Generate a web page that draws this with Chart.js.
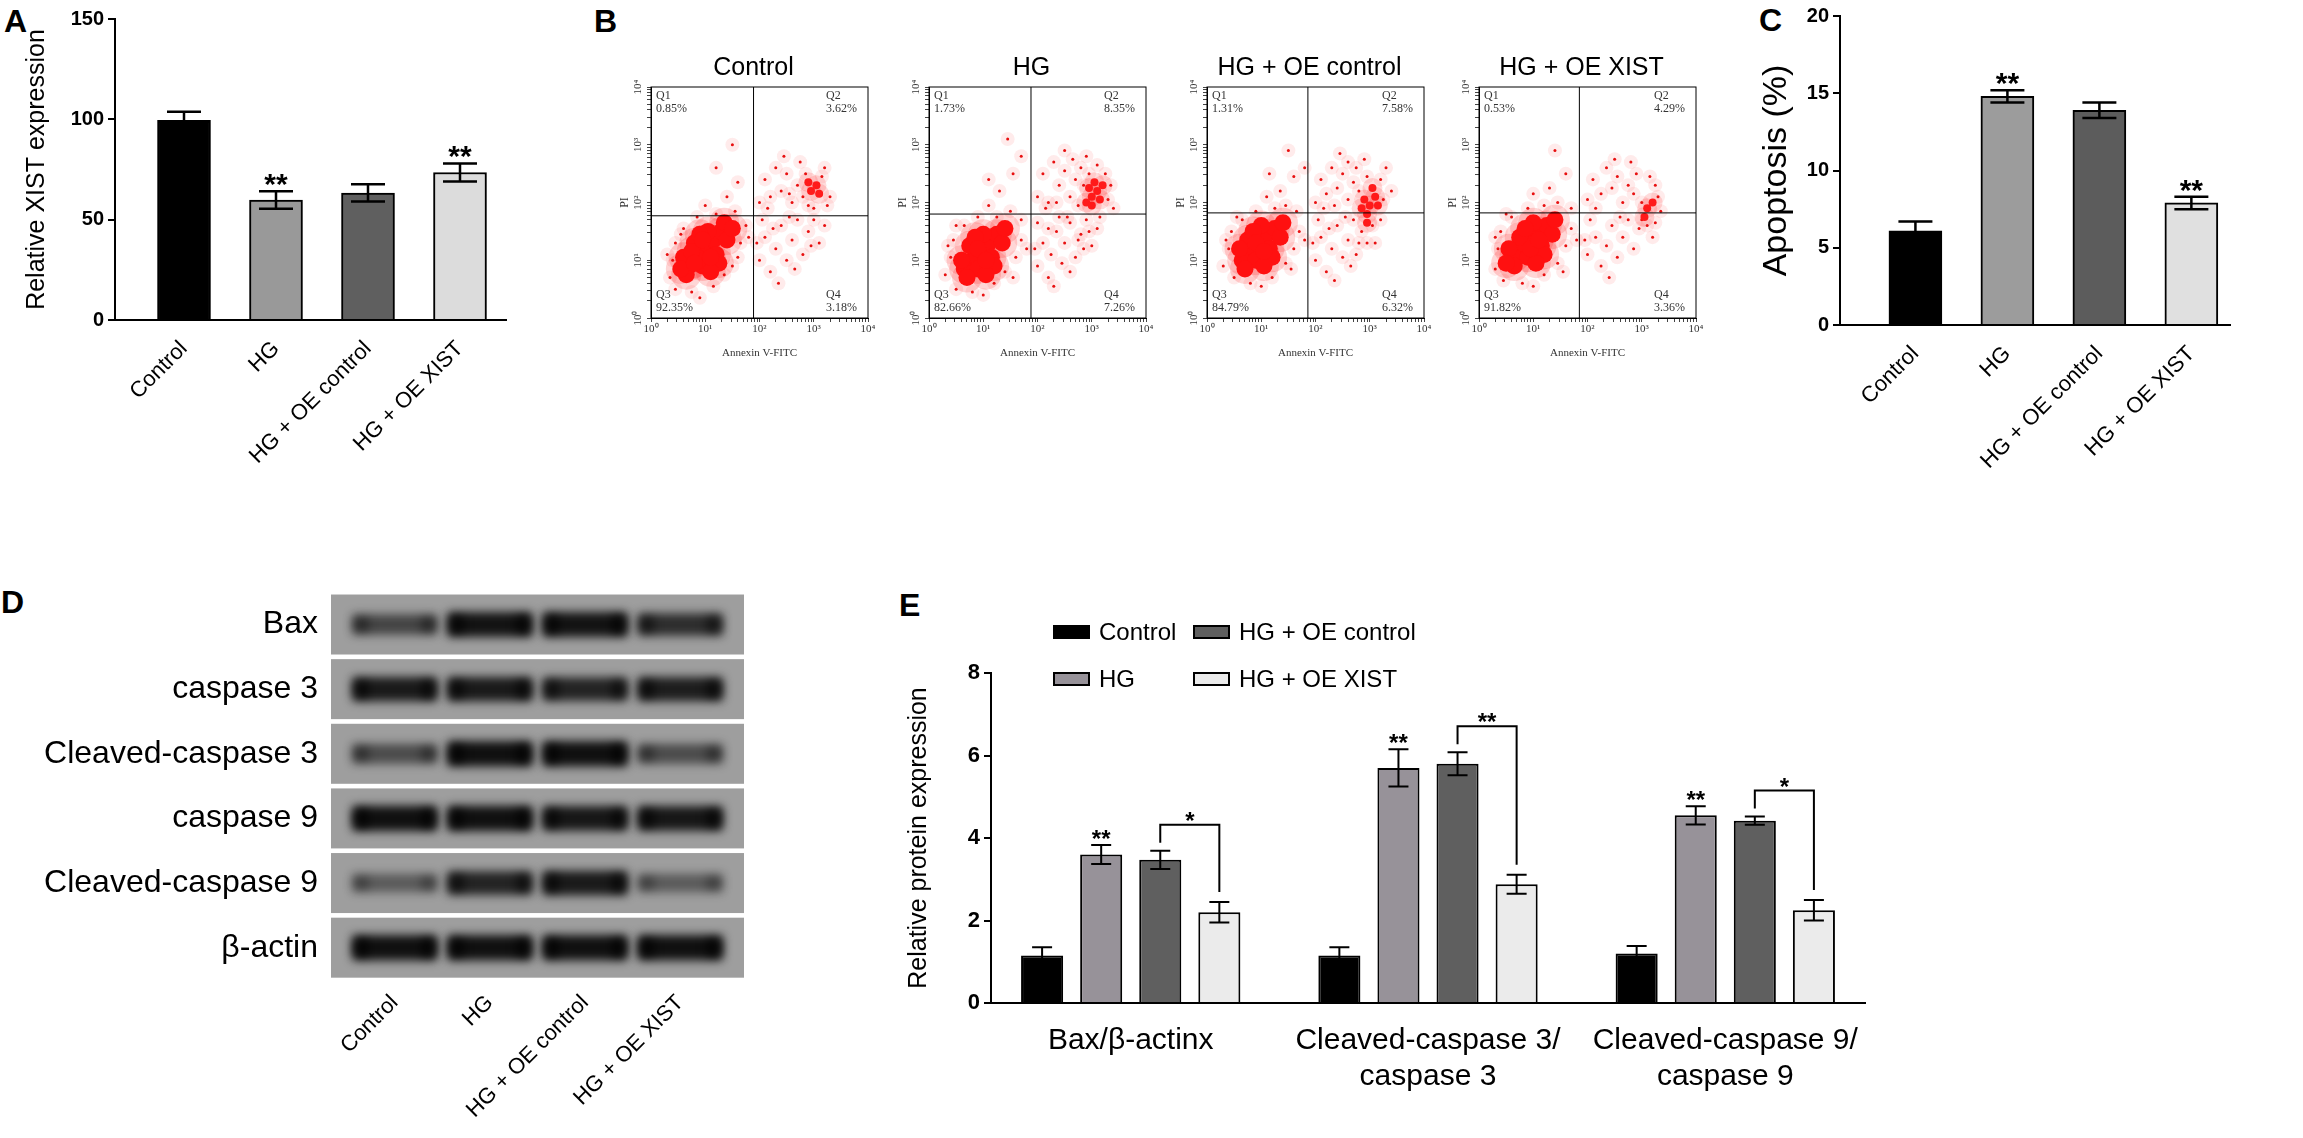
<!DOCTYPE html>
<html>
<head>
<meta charset="utf-8">
<script src="https://cdn.jsdelivr.net/npm/chart.js@4.4.0/dist/chart.umd.min.js"></script>
<style>
html, body { margin: 0; padding: 0; background: #fff; }
body { width: 2303px; height: 1138px; position: relative; overflow: hidden; font-family: Arial, "Liberation Sans", sans-serif; }
canvas { position: absolute; }
.lab { position: absolute; font-weight: bold; font-size: 32px; line-height: 1; }
</style>
</head>
<body>
<div class="lab" style="left:4px;top:5px">A</div>
<div class="lab" style="left:594px;top:5px">B</div>
<div class="lab" style="left:1759px;top:4px">C</div>
<div class="lab" style="left:1px;top:586px">D</div>
<div class="lab" style="left:899px;top:589px">E</div>

<canvas id="chartA" width="540" height="500" style="left:0;top:0"></canvas>
<canvas id="flow0" width="282" height="320" style="left:601px;top:40px"></canvas>
<canvas id="flow1" width="282" height="320" style="left:879px;top:40px"></canvas>
<canvas id="flow2" width="282" height="320" style="left:1157px;top:40px"></canvas>
<canvas id="flow3" width="282" height="320" style="left:1429px;top:40px"></canvas>
<canvas id="chartC" width="563" height="500" style="left:1740px;top:0"></canvas>
<canvas id="chartD" width="760" height="578" style="left:0;top:560px"></canvas>
<canvas id="chartE" width="1020" height="578" style="left:880px;top:560px"></canvas>

<script>
"use strict";

// groups used by A, B, C, D and E
var groups = ["Control", "HG", "HG + OE control", "HG + OE XIST"];

// A - relative XIST expression
var xistMean = [99.5, 59.8, 63.3, 73.5];
var xistErr = [4.3, 4.3, 4.3, 4.5];
var xistStars = ["", "**", "", "**"];

// C - apoptosis (%)
var apoMean = [6.1, 14.8, 13.9, 7.9];
var apoErr = [0.6, 0.4, 0.5, 0.4];
var apoStars = ["", "**", "", "**"];

// B - flow cytometry, quadrant percentages Q1..Q4
var fcsQuads = [
	["0.85", "3.62", "92.35", "3.18"],
	["1.73", "8.35", "82.66", "7.26"],
	["1.31", "7.58", "84.79", "6.32"],
	["0.53", "4.29", "91.82", "3.36"]
];
var fcsGateX = [1.89, 1.88, 1.86, 1.85];
var fcsGateY = [1.77, 1.8, 1.82, 1.82];

// dots in decades [log10 Annexin V, log10 PI]
var ctrlCore = [[1.0,1.2],[0.85,1.05],[1.15,1.35],[0.7,0.9],[1.3,1.5],[0.8,1.3],[1.2,1.1],[0.95,0.9],[1.05,1.5],[0.6,1.05],[1.4,1.35],[0.9,1.45],[1.25,0.95],[0.65,0.75],[1.35,1.65],[0.55,0.85],[1.5,1.55],[1.1,0.8],[0.75,1.15],[0.95,1.35],[1.1,1.05],[0.8,0.95]];
var ctrlClump = [[2.95,2.2],[3.05,2.3],[3.1,2.15],[2.9,2.35]];
var ctrlDots = [[0.35,0.7],[0.4,1.0],[0.45,1.3],[0.45,0.5],[0.6,1.55],[0.75,0.45],[0.85,1.75],[1.15,0.55],[1.35,0.75],[1.6,1.05],[1.65,1.3],[1.75,1.6],[1.55,1.85],[1.2,1.8],[0.3,1.1],[0.9,0.35],[1.5,0.9],[1.8,1.4],[0.55,1.45],[1.0,1.95],
	[2.0,1.0],[2.1,1.4],[2.2,0.8],[2.3,1.2],[2.4,1.6],[2.5,1.0],[2.6,1.35],[2.7,1.7],[2.8,1.1],[2.9,1.5],[3.0,1.7],[3.1,1.3],[2.35,0.6],[2.65,0.85],[3.2,1.6],[2.05,1.7],[2.55,1.75],[2.95,1.25],[1.95,1.3],[2.25,1.55],
	[2.0,2.0],[2.1,2.4],[2.2,2.1],[2.3,2.6],[2.4,2.2],[2.5,2.5],[2.6,2.0],[2.7,2.3],[2.8,2.1],[2.85,2.5],[2.9,1.95],[3.0,1.9],[3.15,2.45],[3.2,2.6],[2.45,2.8],[2.75,2.7],[3.3,2.1],[2.15,1.9],[3.25,1.95],[2.55,2.15],
	[1.4,2.1],[1.6,2.35],[1.2,2.6],[1.5,3.0]];

var hgCore = [[0.95,1.15],[0.8,1.0],[1.1,1.3],[0.65,0.85],[1.25,1.45],[0.75,1.25],[1.15,1.05],[0.9,0.85],[1.0,1.45],[0.6,1.0],[1.35,1.3],[0.85,1.4],[1.2,0.9],[0.7,0.7],[1.4,1.55],[1.05,0.75],[0.9,1.2],[1.05,1.0]];
var hgClump = [[3.0,2.1],[3.1,2.2],[2.95,2.25],[3.15,2.05],[3.05,2.35],[2.9,2.0],[3.2,2.3],[3.0,1.95]];
var hgDots = [[0.3,0.75],[0.4,1.05],[0.45,1.35],[0.5,0.5],[0.65,1.6],[0.8,0.45],[0.9,1.75],[1.2,0.6],[1.4,0.8],[1.6,1.05],[1.7,1.35],[1.7,1.7],[1.5,1.85],[1.25,1.75],[0.35,1.25],[1.0,0.4],[1.55,0.7],[1.8,1.2],[0.5,1.6],[1.1,1.95],
	[2.0,0.9],[2.1,1.3],[2.2,0.7],[2.25,1.1],[2.35,1.5],[2.45,0.95],[2.5,1.3],[2.6,1.65],[2.7,1.05],[2.8,1.45],[2.9,1.7],[3.0,1.25],[2.3,0.55],[2.6,0.8],[3.1,1.55],[2.0,1.65],[2.55,1.75],[2.85,1.2],[1.95,1.2],[2.2,1.55],[2.75,1.35],[3.15,1.75],[2.4,1.75],[2.95,1.5],
	[2.0,2.1],[2.1,2.5],[2.2,2.0],[2.3,2.7],[2.4,2.3],[2.5,2.55],[2.6,2.1],[2.7,2.4],[2.75,1.95],[2.8,2.6],[2.85,2.3],[3.25,2.5],[3.3,2.05],[3.35,2.3],[2.5,2.9],[2.9,2.8],[3.1,2.65],[2.15,1.9],[2.65,2.75],[3.4,1.9],[2.35,2.0],[2.95,2.5],
	[1.3,2.2],[1.55,2.5],[1.1,2.4],[1.7,2.8],[1.45,3.1]];

var oecCore = [[0.95,1.3],[0.8,1.15],[1.1,1.45],[0.65,1.0],[1.25,1.55],[0.75,1.35],[1.15,1.2],[0.9,1.0],[1.0,1.6],[0.6,1.2],[1.35,1.4],[0.85,1.5],[1.2,1.05],[0.7,0.85],[1.4,1.65],[1.05,0.9],[0.9,1.3],[1.05,1.15]];
var oecClump = [[3.0,1.95],[2.9,2.05],[3.1,2.1],[2.95,1.8],[3.05,2.25],[2.85,1.9],[3.15,1.95],[2.95,1.65]];
var oecDots = [[0.3,0.9],[0.4,1.2],[0.45,1.5],[0.5,0.7],[0.65,1.7],[0.8,0.6],[0.9,1.85],[1.2,0.7],[1.45,0.95],[1.6,1.2],[1.7,1.5],[1.65,1.85],[1.45,1.95],[1.25,1.9],[0.35,1.35],[1.0,0.55],[1.55,0.85],[1.8,1.35],[0.55,1.75],[1.1,2.1],
	[2.0,1.0],[2.1,1.4],[2.2,0.8],[2.3,1.2],[2.4,1.6],[2.5,1.05],[2.6,1.35],[2.7,1.7],[2.75,1.1],[2.85,1.5],[3.05,1.6],[3.1,1.3],[2.35,0.65],[2.65,0.9],[3.2,1.7],[2.05,1.7],[2.55,1.75],[2.95,1.3],[1.95,1.3],[2.25,1.55],[2.8,1.3],
	[2.0,2.0],[2.1,2.4],[2.2,2.15],[2.3,2.6],[2.4,2.25],[2.5,2.5],[2.6,2.05],[2.7,2.35],[2.75,2.6],[2.8,2.2],[3.2,2.4],[3.25,2.05],[2.45,2.85],[2.9,2.75],[3.3,2.6],[2.15,1.9],[2.6,2.7],[3.4,2.2],[2.35,1.95],[2.95,2.45],
	[1.35,2.2],[1.6,2.45],[1.15,2.5],[1.5,2.9],[1.8,2.6]];

var xistCore = [[0.95,1.35],[0.8,1.2],[1.1,1.5],[0.65,1.05],[1.25,1.6],[0.75,1.4],[1.15,1.25],[0.9,1.05],[1.0,1.65],[0.55,1.2],[1.35,1.45],[0.85,1.55],[1.2,1.1],[0.65,0.9],[1.4,1.7],[1.05,0.95],[0.5,0.95],[0.95,1.2],[1.1,1.35]];
var xistClump = [[3.1,1.9],[3.2,2.0],[3.05,1.75]];
var xistDots = [[0.3,0.85],[0.35,1.2],[0.4,1.5],[0.45,0.65],[0.6,1.75],[0.8,0.6],[0.9,1.9],[1.2,0.75],[1.45,0.95],[1.6,1.25],[1.7,1.55],[1.7,1.9],[1.45,2.0],[1.2,1.95],[0.3,1.4],[1.0,0.55],[1.55,0.8],[1.8,1.35],[0.5,1.8],[1.0,2.15],
	[2.0,1.1],[2.15,1.4],[2.25,0.9],[2.35,1.25],[2.45,1.6],[2.55,1.05],[2.65,1.4],[2.75,1.7],[2.85,1.2],[2.95,1.55],[3.0,1.7],[3.2,1.4],[2.4,0.7],[3.25,1.65],[2.05,1.7],[2.6,1.75],[3.1,1.6],[1.95,1.35],
	[2.0,2.05],[2.1,2.4],[2.25,2.15],[2.35,2.6],[2.45,2.25],[2.55,2.45],[2.65,2.0],[2.75,2.3],[2.85,2.15],[2.9,2.5],[3.0,2.0],[3.25,2.3],[3.3,2.1],[2.5,2.75],[2.8,2.7],[3.15,2.45],[2.15,1.9],[3.35,1.85],
	[1.3,2.25],[1.6,2.5],[1.4,2.9]];

// D - western blot, band darkness per lane
var blotRows = ["Bax", "caspase 3", "Cleaved-caspase 3", "caspase 9", "Cleaved-caspase 9", "β-actin"];
var baxBand = [0.6, 0.92, 0.92, 0.75];
var casp3Band = [0.88, 0.88, 0.82, 0.86];
var clCasp3Band = [0.55, 0.95, 0.95, 0.55];
var casp9Band = [0.95, 0.95, 0.9, 0.9];
var clCasp9Band = [0.45, 0.82, 0.88, 0.45];
var actinBand = [0.95, 0.95, 0.95, 0.95];

// E - relative protein expression
var proteinGroups = ["Bax/β-actinx", ["Cleaved-caspase 3/", "caspase 3"], ["Cleaved-caspase 9/", "caspase 9"]];
var eControl = [1.15, 1.15, 1.2];
var eControlErr = [0.2, 0.2, 0.18];
var eHG = [3.6, 5.7, 4.55];
var eHGErr = [0.23, 0.45, 0.22];
var eOEc = [3.47, 5.8, 4.42];
var eOEcErr = [0.22, 0.28, 0.1];
var eXist = [2.2, 2.88, 2.25];
var eXistErr = [0.25, 0.23, 0.25];
var eHGStars = ["**", "**", "**"];
var eBracketStars = ["*", "**", "*"];

var serif = '"Liberation Serif", "Times New Roman", serif';
var sup = ["\u2070", "\u00b9", "\u00b2", "\u00b3", "\u2074"];

Chart.defaults.font.family = 'Arial, "Liberation Sans", sans-serif';
Chart.defaults.color = "#000";
Chart.defaults.animation = false;
Chart.defaults.responsive = false;
Chart.defaults.plugins.legend.display = false;
Chart.defaults.plugins.tooltip.enabled = false;

function fixW(w) { return function (s) { s.width = w; }; }
function fixH(h) { return function (s) { s.height = h; }; }
function ticksAt(vals) { return function (s) { s.ticks = vals.map(function (v) { return { value: v }; }); }; }
function logTicks(s) {
	var t = [];
	for (var e = 0; e < 4; e++) for (var m = 1; m < 10; m++) t.push({ value: m * Math.pow(10, e) });
	t.push({ value: 10000 });
	s.ticks = t;
}
function decadeLabel(v) {
	var i = [1, 10, 100, 1000, 10000].indexOf(v);
	return i < 0 ? "" : "10" + sup[i];
}
function toPts(arr) {
	return arr.map(function (p) { return { x: Math.pow(10, p[0]), y: Math.pow(10, p[1]) }; });
}

// error bars + stars above bars
var errorBars = {
	id: "errorBars",
	afterDatasetsDraw: function (chart, args, o) {
		var ctx = chart.ctx, ys = chart.scales.y;
		chart.data.datasets.forEach(function (ds, i) {
			if (!ds.errors) return;
			chart.getDatasetMeta(i).data.forEach(function (bar, j) {
				var v = ds.data[j].y, e = ds.errors[j];
				var top = ys.getPixelForValue(v + e), bot = ys.getPixelForValue(v - e);
				ctx.save();
				ctx.strokeStyle = "#000";
				ctx.lineWidth = o.width;
				ctx.beginPath();
				ctx.moveTo(bar.x, top); ctx.lineTo(bar.x, bot);
				ctx.moveTo(bar.x - o.cap / 2, top); ctx.lineTo(bar.x + o.cap / 2, top);
				ctx.moveTo(bar.x - o.cap / 2, bot); ctx.lineTo(bar.x + o.cap / 2, bot);
				ctx.stroke();
				if (ds.stars && ds.stars[j]) {
					ctx.fillStyle = "#000";
					ctx.font = o.starFont;
					ctx.textAlign = "center";
					ctx.textBaseline = "alphabetic";
					ctx.fillText(ds.stars[j], bar.x, top + o.starDy);
				}
				ctx.restore();
			});
		});
	}
};

function simpleBars(id, means, errs, stars, fills, o) {
	new Chart(document.getElementById(id), {
		type: "bar",
		data: {
			datasets: [{
				data: means.map(function (v, i) { return { x: i, y: v }; }),
				errors: errs,
				stars: stars,
				backgroundColor: fills,
				borderColor: "#000",
				borderWidth: 2,
				barThickness: 53
			}]
		},
		options: {
			layout: { padding: { top: o.top, right: o.right, left: 0, bottom: 0 } },
			scales: {
				x: {
					type: "linear", min: o.xmin, max: o.xmax, offset: false,
					afterBuildTicks: ticksAt([0, 1, 2, 3]), afterFit: fixH(o.xh),
					grid: { display: false }, border: { color: "#000", width: 2 },
					ticks: { minRotation: 45, maxRotation: 45, autoSkip: false, padding: 8, font: { size: 22 },
						callback: function (v) { return groups[v]; } }
				},
				y: {
					min: 0, max: o.ymax, afterFit: fixW(o.yw),
					ticks: { stepSize: o.step, padding: 4, font: { size: 20, weight: "bold" } },
					grid: { drawOnChartArea: false, tickLength: 7, color: "#000", lineWidth: 2 },
					border: { color: "#000", width: 2 },
					title: { display: true, text: o.title, font: { size: o.tsize }, padding: { top: o.tpad, bottom: 0 } }
				}
			},
			plugins: { errorBars: { cap: 34, width: 2.5, starFont: "bold 30px Arial", starDy: 3 } }
		},
		plugins: [errorBars]
	});
}

// chart A
simpleBars("chartA", xistMean, xistErr, xistStars, ["#000000", "#999999", "#5f5f5f", "#dcdcdc"],
	{ top: 19, right: 34, xmin: -0.75, xmax: 3.5, xh: 180, yw: 115, ymax: 150, step: 50, title: "Relative XIST expression", tsize: 25, tpad: 22 });

// chart C
simpleBars("chartC", apoMean, apoErr, apoStars, ["#000000", "#9c9c9c", "#5c5c5c", "#e0e0e0"],
	{ top: 16, right: 73, xmin: -0.82, xmax: 3.42, xh: 175, yw: 100, ymax: 20, step: 5, title: "Apoptosis (%)", tsize: 34, tpad: 16 });

// B - frame, gates, quadrant tags, title, rotated PI ticks
var flowDeco = {
	id: "flowDeco",
	afterDatasetsDraw: function (chart, args, o) {
		var ctx = chart.ctx, a = chart.chartArea, xs = chart.scales.x, ys = chart.scales.y, k = o.k;
		ctx.save();
		ctx.strokeStyle = "#000";
		ctx.lineWidth = 1;
		ctx.strokeRect(a.left, a.top, a.right - a.left, a.bottom - a.top);
		var gx = xs.getPixelForValue(Math.pow(10, fcsGateX[k]));
		var gy = ys.getPixelForValue(Math.pow(10, fcsGateY[k]));
		ctx.beginPath();
		ctx.moveTo(gx, a.top); ctx.lineTo(gx, a.bottom);
		ctx.moveTo(a.left, gy); ctx.lineTo(a.right, gy);
		ctx.stroke();

		var q = fcsQuads[k];
		ctx.fillStyle = "#333";
		ctx.font = "12px " + serif;
		ctx.textBaseline = "middle";
		ctx.textAlign = "left";
		ctx.fillText("Q1", a.left + 5, a.top + 9);
		ctx.fillText(q[0] + "%", a.left + 5, a.top + 22);
		ctx.fillText("Q3", a.left + 5, a.bottom - 23);
		ctx.fillText(q[2] + "%", a.left + 5, a.bottom - 10);
		var w2 = ctx.measureText(q[1] + "%").width, w4 = ctx.measureText(q[3] + "%").width;
		ctx.fillText("Q2", a.right - 11 - w2, a.top + 9);
		ctx.fillText(q[1] + "%", a.right - 11 - w2, a.top + 22);
		ctx.fillText("Q4", a.right - 11 - w4, a.bottom - 23);
		ctx.fillText(q[3] + "%", a.right - 11 - w4, a.bottom - 10);

		ctx.font = "11px " + serif;
		ctx.textAlign = "center";
		for (var e = 0; e < 5; e++) {
			var y = ys.getPixelForValue(Math.pow(10, e));
			ctx.save();
			ctx.translate(a.left - 13, y);
			ctx.rotate(-Math.PI / 2);
			ctx.fillText("10" + sup[e], 0, 0);
			ctx.restore();
		}

		ctx.fillStyle = "#000";
		ctx.font = '25px Arial, "Liberation Sans", sans-serif';
		ctx.textAlign = "center";
		ctx.fillText(groups[k], (a.left + a.right) / 2 - 6, a.top - 19);
		ctx.restore();
	}
};

function flowChart(k, core, clump, dots) {
	new Chart(document.getElementById("flow" + k), {
		type: "scatter",
		data: {
			datasets: [
				{ data: toPts(core), pointRadius: 8.5, pointBackgroundColor: "#ff1010", pointBorderWidth: 0 },
				{ data: toPts(clump), pointRadius: 4, pointBackgroundColor: "#ff1a1a", pointBorderWidth: 0 },
				{ data: toPts(dots), pointRadius: 1.5, pointBackgroundColor: "#e81010", pointBorderWidth: 0 },
				{ data: toPts(core), pointRadius: 15, pointBackgroundColor: "rgba(255,0,0,0.16)", pointBorderWidth: 0 },
				{ data: toPts(clump), pointRadius: 10, pointBackgroundColor: "rgba(255,0,0,0.14)", pointBorderWidth: 0 },
				{ data: toPts(dots), pointRadius: 7, pointBackgroundColor: "rgba(255,30,30,0.09)", pointBorderWidth: 0 }
			]
		},
		options: {
			layout: { padding: { top: 47, right: 6, left: 0, bottom: 0 } },
			scales: {
				x: {
					type: "logarithmic", min: 1, max: 10000,
					afterBuildTicks: logTicks, afterFit: fixH(42),
					grid: { drawOnChartArea: false, tickLength: 4, color: "#444", lineWidth: 1 },
					border: { color: "#000", width: 1 },
					ticks: { autoSkip: false, maxRotation: 0, padding: 1, color: "#333", font: { family: serif, size: 11 }, callback: decadeLabel },
					title: { display: true, text: "Annexin V-FITC", color: "#333", font: { family: serif, size: 11 }, padding: 0 }
				},
				y: {
					type: "logarithmic", min: 1, max: 10000,
					afterBuildTicks: logTicks, afterFit: fixW(50),
					grid: { drawOnChartArea: false, tickLength: 4, color: "#444", lineWidth: 1 },
					border: { color: "#000", width: 1 },
					ticks: { autoSkip: false, callback: function () { return ""; } },
					title: { display: true, text: "PI", color: "#333", font: { family: serif, size: 12 }, padding: { top: 17, bottom: 0 } }
				}
			},
			plugins: { flowDeco: { k: k } }
		},
		plugins: [flowDeco]
	});
}

flowChart(0, ctrlCore, ctrlClump, ctrlDots);
flowChart(1, hgCore, hgClump, hgDots);
flowChart(2, oecCore, oecClump, oecDots);
flowChart(3, xistCore, xistClump, xistDots);

// D - western blot strips and bands
var blotBands = [baxBand, casp3Band, clCasp3Band, casp9Band, clCasp9Band, actinBand];
var blotDraw = {
	id: "blotDraw",
	beforeDatasetsDraw: function (chart) {
		var ctx = chart.ctx, a = chart.chartArea, xs = chart.scales.x, ys = chart.scales.y;
		blotRows.forEach(function (r, i) {
			var yc = ys.getPixelForValue(i);
			ctx.save();
			ctx.fillStyle = "#9e9e9e";
			ctx.fillRect(a.left, yc - 30, a.right - a.left, 60);
			ctx.beginPath();
			ctx.rect(a.left, yc - 30, a.right - a.left, 60);
			ctx.clip();
			ctx.filter = "blur(5px)";
			blotBands[i].forEach(function (v, j) {
				var x = xs.getPixelForValue(j);
				var h = 12 + 14 * v;
				ctx.fillStyle = "rgba(8,8,8," + v + ")";
				ctx.fillRect(x - 42, yc - h / 2, 84, h);
				ctx.fillStyle = "rgba(0,0,0," + (v * 0.7) + ")";
				ctx.fillRect(x - 42, yc - h / 3, 16, h * 0.66);
				ctx.fillRect(x + 26, yc - h / 3, 16, h * 0.66);
			});
			ctx.restore();
		});
	}
};

new Chart(document.getElementById("chartD"), {
	type: "scatter",
	data: {
		datasets: blotRows.map(function (r, i) {
			return { data: blotBands[i].map(function (v, j) { return { x: j, y: r }; }), pointRadius: 0 };
		})
	},
	options: {
		layout: { padding: { top: 30, right: 16, left: 0, bottom: 0 } },
		scales: {
			x: {
				type: "linear", min: -0.67, max: 3.67,
				afterBuildTicks: ticksAt([0, 1, 2, 3]), afterFit: fixH(158),
				grid: { display: false, drawTicks: false }, border: { display: false },
				ticks: { minRotation: 45, maxRotation: 45, autoSkip: false, padding: 10, font: { size: 22 },
					callback: function (v) { return groups[v]; } }
			},
			y: {
				type: "category", labels: blotRows, offset: true, afterFit: fixW(331),
				grid: { display: false, drawTicks: false }, border: { display: false },
				ticks: { padding: 13, font: { size: 32 } }
			}
		}
	},
	plugins: [blotDraw]
});

// E - legend grid and comparison brackets
var eExtras = {
	id: "eExtras",
	afterDatasetsDraw: function (chart) {
		var ctx = chart.ctx, a = chart.chartArea, ys = chart.scales.y;
		ctx.save();
		chart.data.datasets.forEach(function (ds, i) {
			var col = Math.floor(i / 2), row = i % 2;
			var x = a.left + (col ? 203 : 63), y = a.top + (row ? 6 : -41);
			ctx.fillStyle = ds.backgroundColor;
			ctx.fillRect(x, y - 6, 35, 12);
			ctx.strokeStyle = "#000";
			ctx.lineWidth = 2;
			ctx.strokeRect(x, y - 6, 35, 12);
			ctx.fillStyle = "#000";
			ctx.font = '24px Arial, "Liberation Sans", sans-serif';
			ctx.textAlign = "left";
			ctx.textBaseline = "middle";
			ctx.fillText(ds.label, x + 45, y + 1);
		});
		var mO = chart.getDatasetMeta(2), mX = chart.getDatasetMeta(3);
		eBracketStars.forEach(function (s, g) {
			var x1 = mO.data[g].x, x2 = mX.data[g].x;
			var yl = ys.getPixelForValue(eOEc[g] + eOEcErr[g]) - 8;
			var top = yl - 18;
			var yr = ys.getPixelForValue(eXist[g] + eXistErr[g]) - 10;
			ctx.strokeStyle = "#000";
			ctx.lineWidth = 2;
			ctx.beginPath();
			ctx.moveTo(x1, yl); ctx.lineTo(x1, top); ctx.lineTo(x2, top); ctx.lineTo(x2, yr);
			ctx.stroke();
			ctx.fillStyle = "#000";
			ctx.font = 'bold 24px Arial, "Liberation Sans", sans-serif';
			ctx.textAlign = "center";
			ctx.textBaseline = "alphabetic";
			ctx.fillText(s, (x1 + x2) / 2, top + 4);
		});
		ctx.restore();
	}
};

var eMeans = [eControl, eHG, eOEc, eXist];
var eErrs = [eControlErr, eHGErr, eOEcErr, eXistErr];
var eFills = ["#000000", "#979299", "#5f5f5f", "#ebebeb"];

new Chart(document.getElementById("chartE"), {
	type: "bar",
	data: {
		datasets: groups.map(function (g, i) {
			return {
				label: g,
				data: eMeans[i].map(function (v, j) { return { x: j, y: v }; }),
				errors: eErrs[i],
				stars: i === 1 ? eHGStars : null,
				backgroundColor: eFills[i],
				borderColor: "#000",
				borderWidth: 2,
				categoryPercentage: 0.795,
				barPercentage: 0.712
			};
		})
	},
	options: {
		layout: { padding: { top: 113, right: 35, left: 0, bottom: 0 } },
		scales: {
			x: {
				type: "linear", min: -0.47, max: 2.47, offset: false,
				afterBuildTicks: ticksAt([0, 1, 2]), afterFit: fixH(135),
				grid: { display: false }, border: { color: "#000", width: 2 },
				ticks: { maxRotation: 0, autoSkip: false, padding: 12, font: { size: 30 },
					callback: function (v) { return proteinGroups[v]; } }
			},
			y: {
				min: 0, max: 8, afterFit: fixW(111),
				ticks: { stepSize: 2, padding: 4, font: { size: 22, weight: "bold" } },
				grid: { drawOnChartArea: false, tickLength: 7, color: "#000", lineWidth: 2 },
				border: { color: "#000", width: 2 },
				title: { display: true, text: "Relative protein expression", font: { size: 25 }, padding: { top: 24, bottom: 0 } }
			}
		},
		plugins: { errorBars: { cap: 20, width: 2, starFont: 'bold 24px Arial, "Liberation Sans", sans-serif', starDy: 2 } }
	},
	plugins: [errorBars, eExtras]
});
</script>
</body>
</html>
